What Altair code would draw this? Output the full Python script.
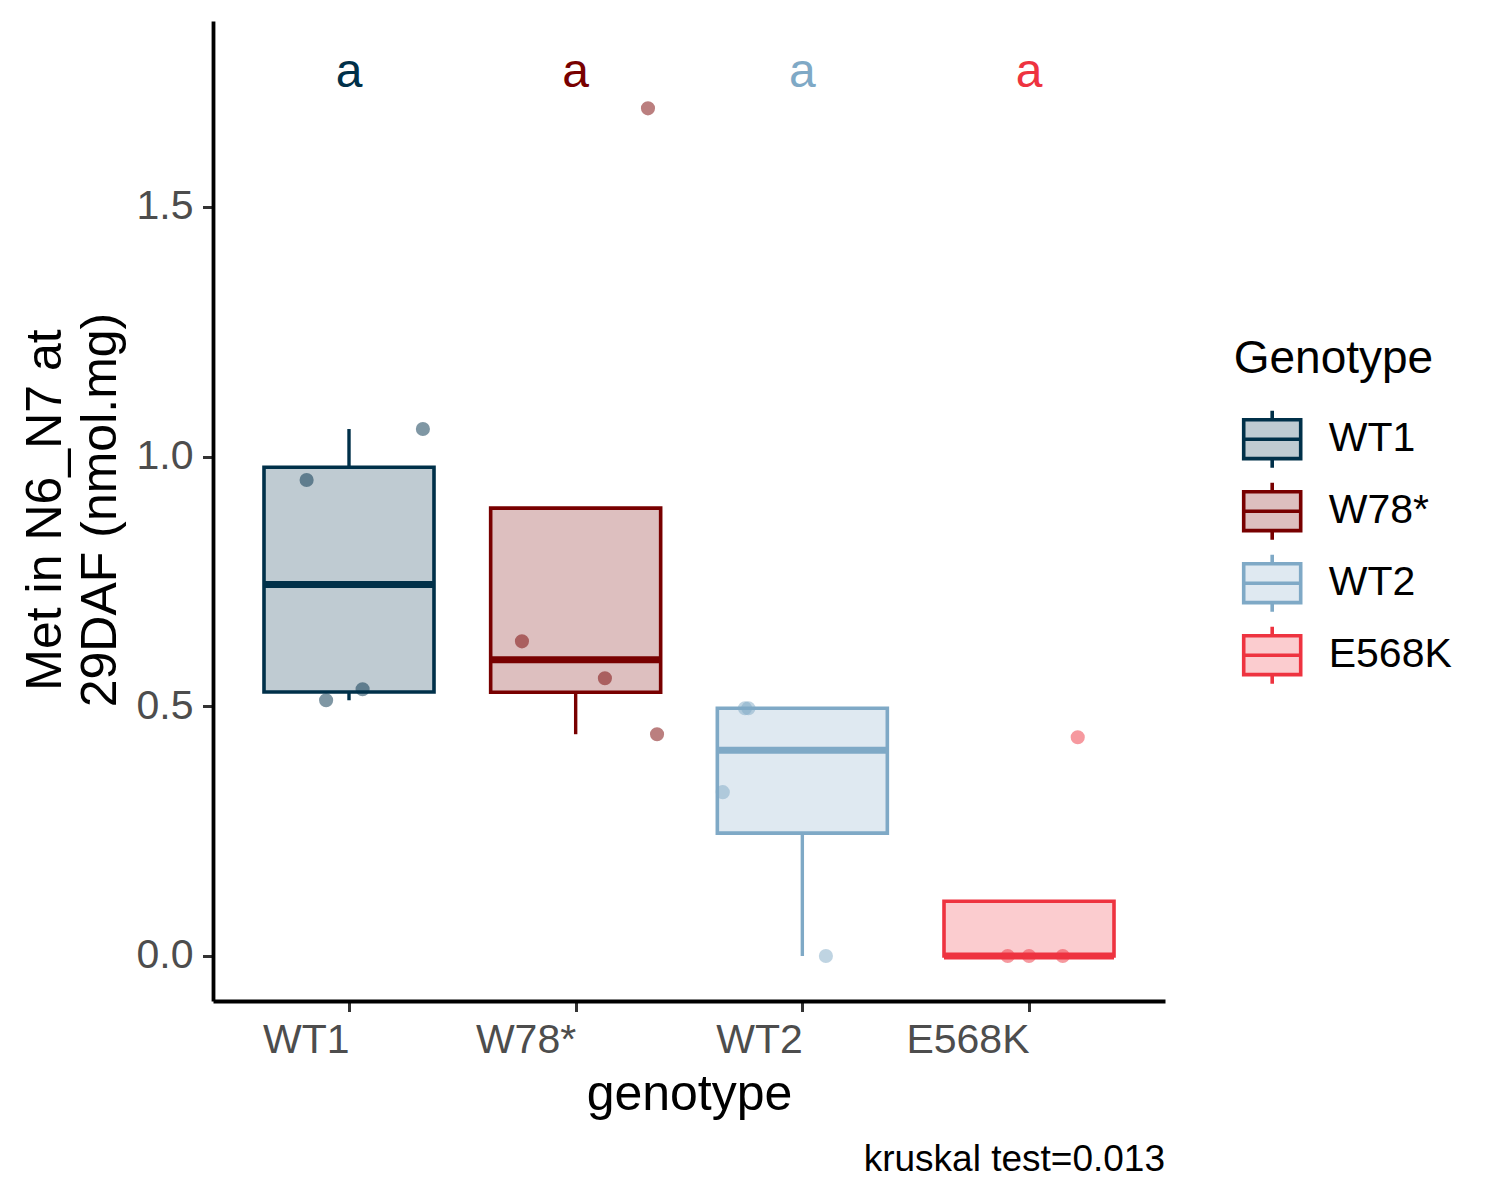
import json
import altair as alt
import numpy as np
import pandas as pd

# ---------------- data ----------------
genotypes = ["WT1", "W78*", "WT2", "E568K"]
line_colors = ["#003049", "#780000", "#7FA9C6", "#EE3340"]
fill_colors = ["#BFCBD2", "#DDBFBF", "#DFE9F1", "#FBCCCF"]   # line colours at 25 % on white

values_wt1 = [0.953, 0.512, 0.534, 1.055]
values_w78 = [0.630, 0.556, 0.444, 1.697]
values_wt2 = [0.496, 0.496, 0.328, 0.000]
values_e568k = [0.000, 0.000, 0.000, 0.438]

jitter_wt1 = [-0.187, -0.101, 0.060, 0.326]
jitter_w78 = [-0.237, 0.129, 0.359, 0.319]
jitter_wt2 = [-0.253, -0.238, -0.351, 0.104]
jitter_e568k = [-0.094, 0.000, 0.149, 0.215]

letters = ["a", "a", "a", "a"]
letter_y = 1.74
y_ticks = [0.0, 0.5, 1.0, 1.5]
y_title = ["Met in N6_N7 at", "29DAF (nmol.mg)"]
x_title = "genotype"
legend_title = "Genotype"
caption = "kruskal test=0.013"

FONT = "Liberation Sans"

# ---------------- tables ----------------
all_values = [values_wt1, values_w78, values_wt2, values_e568k]
all_jitter = [jitter_wt1, jitter_w78, jitter_wt2, jitter_e568k]

rows = []
for i, (g, vals, jit) in enumerate(zip(genotypes, all_values, all_jitter), start=1):
    for v, j in zip(vals, jit):
        rows.append({"genotype": g, "col": line_colors[i - 1], "idx": i,
                     "value": v, "xpos": i + j})
points = pd.DataFrame(rows)

stats = []
for i, (g, vals) in enumerate(zip(genotypes, all_values), start=1):
    a = np.array(vals, dtype=float)
    q1, med, q3 = np.percentile(a, [25, 50, 75])
    iqr = q3 - q1
    hi = a[a <= q3 + 1.5 * iqr].max()
    lo = a[a >= q1 - 1.5 * iqr].min()
    stats.append({"genotype": g, "col": line_colors[i - 1], "idx": i,
                  "x_lo": i - 0.375, "x_hi": i + 0.375,
                  "q1": q1, "med": med, "q3": q3, "hi": hi, "lo": lo,
                  "letter": letters[i - 1], "ly": letter_y})
stats = pd.DataFrame(stats)

# ---------------- scales / guides ----------------
x_scale = alt.Scale(domain=[0.4, 4.6], nice=False, zero=False)
y_scale = alt.Scale(domain=[-0.0901, 1.8719], nice=False, zero=False)
stroke_scale = alt.Scale(domain=genotypes, range=line_colors)
fill_scale = alt.Scale(domain=genotypes, range=fill_colors)

x_axis = alt.Axis(
    values=[1, 2, 3, 4],
    labelExpr=json.dumps(genotypes) + "[datum.value - 1] + '\u200a'",
    title=x_title, titleFontSize=50, titleFont=FONT, titleColor="black",
    titleFontWeight="normal", titleBaseline="alphabetic", titleAlign="center",
    titleX=476, titleY=108,
    labelFontSize=41, labelFont=FONT, labelColor="#4D4D4D",
    labelAlign="right", labelBaseline="alphabetic", labelPadding=41,
    labelOverlap=False, labelFlush=False,
    tickColor="#333333", tickWidth=3, tickSize=10.5,
    domainColor="black", domainWidth=3.8, grid=False,
)
y_axis = alt.Axis(
    values=y_ticks, format=".1f",
    title=y_title, titleFontSize=50, titleFont=FONT, titleColor="black",
    titleFontWeight="normal", titleBaseline="alphabetic", titleAlign="center",
    titleAngle=270, titleX=-152.5, titleY=488.5, titleLineHeight=55,
    labelFontSize=41, labelFont=FONT, labelColor="#4D4D4D", labelPadding=9.5,
    labelFlush=False, labelOverlap=False,
    tickColor="#333333", tickWidth=3, tickSize=10.5,
    domainColor="black", domainWidth=3.8, grid=False,
)

legend = alt.Legend(
    title=legend_title, orient="none", legendX=1020.7, legendY=315.7,
    titleFontSize=46, titleFont=FONT, titleColor="black", titleFontWeight="normal",
    titlePadding=26, titleLimit=500, padding=0,
    labelFontSize=41, labelFont=FONT, labelColor="black", labelOffset=26, labelLimit=400,
    symbolType="M-1,-0.68H1V0.68H-1Z M-1,0H1 M0,-0.68V-1 M0,0.68V1",
    symbolSize=3249, symbolStrokeWidth=3.6, symbolOffset=8, rowPadding=-1,
)

X = lambda f: alt.X(f, scale=x_scale, axis=x_axis)
Y = lambda f: alt.Y(f, scale=y_scale, axis=y_axis)
base_stats = alt.Chart(stats)

whiskers_up = base_stats.mark_rule(strokeWidth=3.4).encode(
    x=X("idx:Q"), y=Y("q3:Q"), y2="hi:Q",
    stroke=alt.Stroke("col:N", scale=None),
)
whiskers_lo = base_stats.mark_rule(strokeWidth=3.4).encode(
    x=X("idx:Q"), y=Y("q1:Q"), y2="lo:Q",
    stroke=alt.Stroke("col:N", scale=None),
)
boxes = base_stats.mark_rect(strokeWidth=3.6).encode(
    x=X("x_lo:Q"), x2="x_hi:Q", y=Y("q1:Q"), y2="q3:Q",
    fill=alt.Fill("genotype:N", scale=fill_scale, legend=legend),
    stroke=alt.Stroke("genotype:N", scale=stroke_scale, legend=legend),
)
medians = base_stats.mark_rule(strokeWidth=7).encode(
    x=X("x_lo:Q"), x2="x_hi:Q", y=Y("med:Q"),
    stroke=alt.Stroke("col:N", scale=None),
)
dots = alt.Chart(points).mark_circle(size=200, opacity=0.5).encode(
    x=X("xpos:Q"), y=Y("value:Q"),
    color=alt.Color("col:N", scale=None),
)
labels = base_stats.mark_text(fontSize=48, font=FONT, baseline="alphabetic", align="center").encode(
    x=X("idx:Q"), y=Y("ly:Q"), text="letter:N",
    color=alt.Color("col:N", scale=None),
)
cap = alt.Chart(pd.DataFrame({"caption": [caption]})).mark_text(
    fontSize=37, font=FONT, color="black", align="right", baseline="alphabetic"
).encode(
    x=alt.value(952), y=alt.value(1149.7), text="caption:N",
)

chart = alt.layer(whiskers_up, whiskers_lo, boxes, medians, dots, labels, cap).properties(
    width=952, height=980,
    padding={"left": 205, "top": 13, "right": 320, "bottom": 185},
    autosize=alt.AutoSizeParams(type="none"),
    background="white",
).configure_view(stroke=None)

chart.save("out.html", embed_options={"renderer": "svg", "actions": False})
